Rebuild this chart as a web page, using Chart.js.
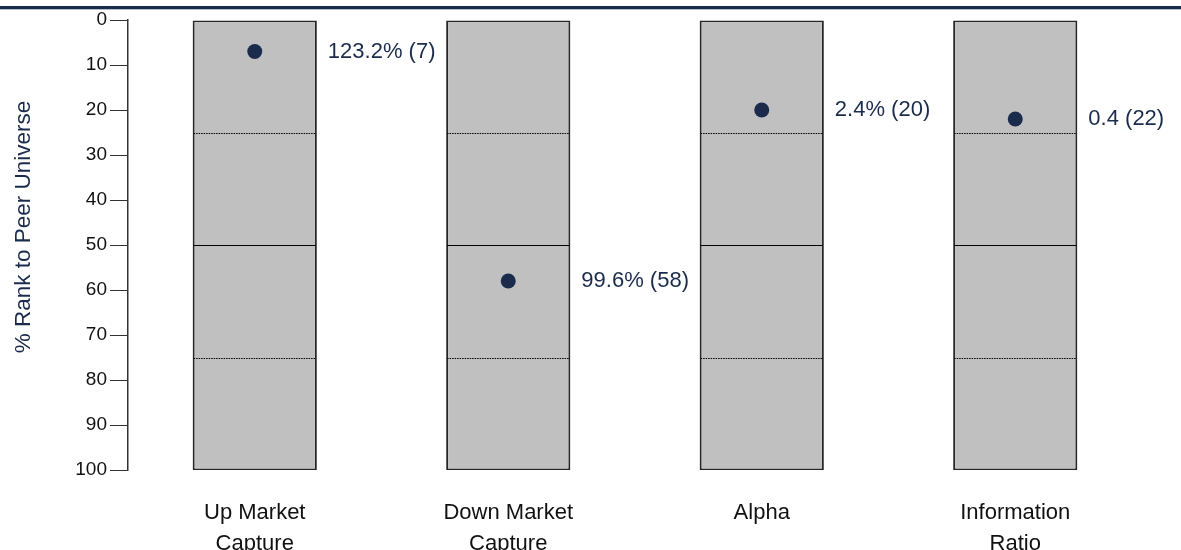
<!DOCTYPE html>
<html>
<head>
<meta charset="utf-8">
<script src="https://cdn.jsdelivr.net/npm/chart.js@4.4.1/dist/chart.umd.min.js"></script>
<style>
  html, body { margin: 0; padding: 0; background: #fff; }
  #wrap { position: relative; width: 1181px; height: 550px; overflow: hidden; }
</style>
</head>
<body>
<div id="wrap"><canvas id="c" width="1181" height="550"></canvas></div>
<script>
// ---- data ----
const categories = [["Up Market", "Capture"], ["Down Market", "Capture"], "Alpha", ["Information", "Ratio"]];
const rankValues = [7, 58, 20, 22];
const pointLabels = ["123.2% (7)", "99.6% (58)", "2.4% (20)", "0.4 (22)"];
const rangeLow = [0, 0, 0, 0];
const rangeHigh = [100, 100, 100, 100];
const quartiles = [25, 50, 75];
const yTicks = [0, 10, 20, 30, 40, 50, 60, 70, 80, 90, 100];
const yTitle = "% Rank to Peer Universe";

const NAVY = "#1a2b4c";
const FONT = "Arial, 'Liberation Sans', sans-serif";

const decorPlugin = {
  id: "decor",
  beforeDraw(chart) {
    const ctx = chart.ctx;
    ctx.save();
    ctx.fillStyle = NAVY;
    ctx.fillRect(0, 6, chart.width, 3);
    ctx.fillStyle = "#b4bac6";
    ctx.fillRect(0, 9, chart.width, 1);
    ctx.restore();
  },
  afterDatasetDraw(chart, args) {
    if (args.meta.type !== "bar") return;
    const ctx = chart.ctx;
    const y = chart.scales.y;
    ctx.save();
    args.meta.data.forEach(bar => {
      const x0 = bar.x - bar.width / 2 + 1;
      const x1 = bar.x + bar.width / 2 - 1;
      quartiles.forEach(q => {
        const py = Math.round(y.getPixelForValue(q)) + 0.5;
        ctx.beginPath();
        ctx.lineWidth = 1;
        ctx.strokeStyle = "#000";
        ctx.setLineDash(q === 50 ? [] : [1.5, 1]);
        ctx.moveTo(x0, py);
        ctx.lineTo(x1, py);
        ctx.stroke();
      });
    });
    ctx.restore();
  },
  afterDraw(chart) {
    const ctx = chart.ctx;
    const barMeta = chart.getDatasetMeta(1);
    const ptMeta = chart.getDatasetMeta(0);
    ctx.save();
    ctx.font = "22px " + FONT;
    ctx.fillStyle = NAVY;
    ctx.textAlign = "left";
    ctx.textBaseline = "middle";
    ptMeta.data.forEach((pt, i) => {
      const bar = barMeta.data[i];
      ctx.fillText(pointLabels[i], bar.x + bar.width / 2 + 11, pt.y);
    });
    // y axis title
    ctx.translate(24, 227);
    ctx.rotate(-Math.PI / 2);
    ctx.textAlign = "center";
    ctx.font = "22.5px " + FONT;
    ctx.fillText(yTitle, 0, 0);
    ctx.restore();
  }
};

new Chart(document.getElementById("c"), {
  data: {
    labels: categories,
    datasets: [
      {
        type: "line",
        data: rankValues,
        showLine: false,
        pointRadius: 7.5,
        pointHoverRadius: 7.5,
        pointBackgroundColor: NAVY,
        pointBorderWidth: 0,
        order: 0
      },
      {
        type: "bar",
        data: rangeLow.map((lo, i) => [lo, rangeHigh[i]]),
        backgroundColor: "#c0c0c0",
        borderColor: "#262626",
        borderWidth: { top: 1.5, bottom: 1.5, left: 2, right: 2 },
        borderSkipped: false,
        categoryPercentage: 1,
        barPercentage: 0.49,
        order: 1
      }
    ]
  },
  options: {
    responsive: false,
    devicePixelRatio: 1,
    animation: false,
    layout: { padding: { top: 20, right: 39, bottom: 0, left: 0 } },
    plugins: { legend: { display: false }, tooltip: { enabled: false } },
    scales: {
      x: {
        type: "category",
        offset: true,
        grid: { display: false, drawTicks: false },
        border: { display: false },
        ticks: {
          color: "#111",
          font: { family: FONT, size: 22, lineHeight: 1.4 },
          padding: 28,
          maxRotation: 0,
          autoSkip: false
        },
        afterFit(scale) { scale.height = 80; }
      },
      y: {
        reverse: true,
        min: 0,
        max: 100,
        afterBuildTicks(scale) { scale.ticks = yTicks.map(v => ({ value: v })); },
        grid: { drawOnChartArea: false, drawTicks: true, tickLength: 18, color: "#333", lineWidth: 1 },
        border: { display: true, color: "#333", width: 1.5 },
        ticks: {
          color: "#111",
          font: { family: FONT, size: 19 },
          padding: 3
        },
        afterFit(scale) { scale.width = 128; }
      }
    }
  },
  plugins: [decorPlugin]
});
</script>
</body>
</html>
